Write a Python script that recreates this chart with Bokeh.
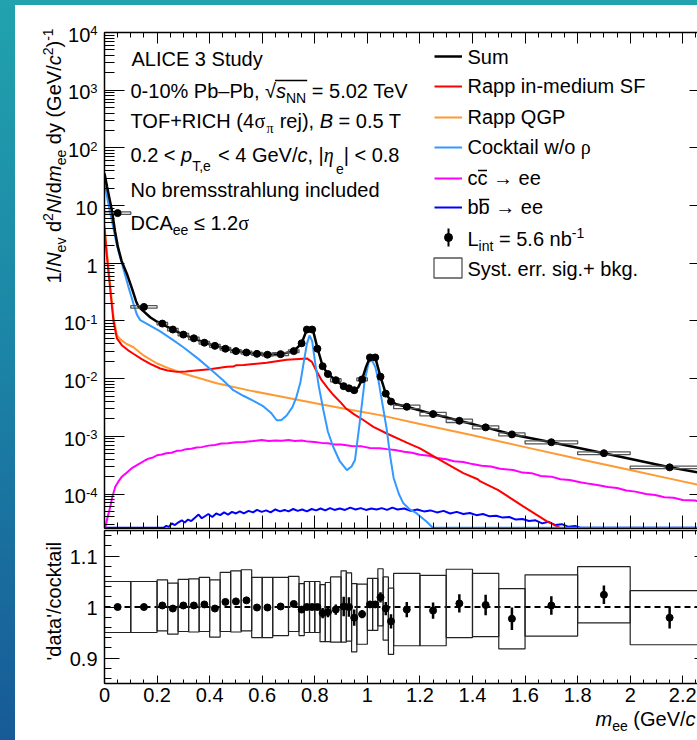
import math
import numpy as np
from bokeh.plotting import figure
from bokeh.layouts import column, row
from bokeh.models import (Range1d, FixedTicker, LinearAxis, LogAxis, Label, Legend,
                          LegendItem, BoxAnnotation, Span)
from bokeh.core.properties import value
from bokeh.embed import file_html
from bokeh.resources import INLINE

# ------------------------------------------------------------------ data
bin_lo = [0.0, 0.1, 0.2, 0.24, 0.28, 0.32, 0.36, 0.40, 0.44, 0.48, 0.52, 0.56, 0.60, 0.64,
          0.70, 0.74, 0.76, 0.78, 0.80, 0.82, 0.84, 0.86, 0.90, 0.92, 0.94, 0.96, 1.00, 1.02,
          1.04, 1.06, 1.08, 1.10, 1.2, 1.3, 1.4, 1.5, 1.6, 1.8, 2.0]
bin_hi = [0.1, 0.2, 0.24, 0.28, 0.32, 0.36, 0.40, 0.44, 0.48, 0.52, 0.56, 0.60, 0.64, 0.70,
          0.74, 0.76, 0.78, 0.80, 0.82, 0.84, 0.86, 0.90, 0.92, 0.94, 0.96, 1.00, 1.02, 1.04,
          1.06, 1.08, 1.10, 1.2, 1.3, 1.4, 1.5, 1.6, 1.8, 2.0, 2.3]
data_yield = [7.4, 0.175, 0.090, 0.071, 0.058, 0.050, 0.042, 0.037, 0.033, 0.030, 0.0284,
              0.0269, 0.026, 0.0266, 0.030, 0.041, 0.071, 0.071, 0.033, 0.0164, 0.012, 0.0094,
              0.0074, 0.0068, 0.0063, 0.0097, 0.0233, 0.0233, 0.0108, 0.0055, 0.0040, 0.00325,
              0.00243, 0.00186, 0.00143, 0.00108, 0.00079, 0.00051, 0.00029]
ratio = [1.000, 1.000, 1.003, 0.997, 1.003, 1.003, 1.005, 0.997, 1.010, 1.011, 1.013, 0.999,
         0.999, 1.001, 1.006, 0.995, 1.000, 1.000, 1.000, 0.988, 0.990, 0.995, 1.001, 1.000,
         0.979, 0.986, 1.005, 1.005, 1.019, 0.997, 0.972, 0.995, 0.993, 1.007, 1.004, 0.977,
         1.003, 1.024, 0.979]
syst_rel = [0.050, 0.050, 0.050, 0.050, 0.051, 0.052, 0.053, 0.056, 0.058, 0.060, 0.060, 0.059,
            0.059, 0.057, 0.054, 0.051, 0.050, 0.050, 0.050, 0.056, 0.058, 0.064, 0.070, 0.067,
            0.067, 0.059, 0.051, 0.051, 0.056, 0.062, 0.065, 0.071, 0.069, 0.067, 0.062, 0.059,
            0.060, 0.055, 0.053]
stat_rel = [0.001, 0.001, 0.001, 0.001, 0.001, 0.001, 0.001, 0.001, 0.001, 0.001, 0.001, 0.001,
            0.001, 0.002, 0.002, 0.005, 0.002, 0.002, 0.004, 0.010, 0.010, 0.010, 0.019, 0.019,
            0.016, 0.008, 0.004, 0.004, 0.010, 0.013, 0.014, 0.015, 0.016, 0.018, 0.020, 0.022,
            0.018, 0.018, 0.021]

sum_curve = [(0.000, 36), (0.010, 21), (0.020, 12.5), (0.028, 8.3), (0.040, 3.6), (0.051, 1.92),
             (0.065, 1.1), (0.085, 0.66), (0.105, 0.36), (0.120, 0.22), (0.130, 0.175),
             (0.150, 0.145), (0.175, 0.115), (0.200, 0.097), (0.220, 0.088), (0.260, 0.071),
             (0.300, 0.058), (0.340, 0.050), (0.380, 0.042), (0.420, 0.037), (0.460, 0.033),
             (0.500, 0.030), (0.540, 0.0284), (0.580, 0.0269), (0.620, 0.026), (0.670, 0.0265),
             (0.720, 0.030), (0.750, 0.041), (0.765, 0.062), (0.775, 0.072), (0.785, 0.072),
             (0.795, 0.064), (0.810, 0.034), (0.830, 0.0164), (0.850, 0.012), (0.880, 0.0094),
             (0.910, 0.0074), (0.930, 0.0068), (0.950, 0.0063), (0.965, 0.0070), (0.980, 0.0097),
             (0.995, 0.016), (1.010, 0.0235), (1.030, 0.0233), (1.050, 0.0108), (1.070, 0.0055),
             (1.090, 0.0041), (1.110, 0.0036), (1.150, 0.00325), (1.250, 0.00243),
             (1.350, 0.00186), (1.450, 0.00143), (1.550, 0.00108), (1.700, 0.00079),
             (1.900, 0.00051), (2.150, 0.00029), (2.300, 0.00022)]
cocktail_curve = [(0.000, 26), (0.010, 14), (0.020, 8.0), (0.030, 5.0), (0.047, 2.05), (0.070, 0.85),
                  (0.091, 0.39), (0.110, 0.20), (0.123, 0.13), (0.136, 0.103), (0.160, 0.090),
                  (0.212, 0.066), (0.260, 0.047), (0.300, 0.035), (0.357, 0.022), (0.400, 0.015),
                  (0.450, 0.0095), (0.490, 0.0063), (0.530, 0.0050), (0.567, 0.0041),
                  (0.605, 0.0033), (0.635, 0.0025), (0.655, 0.0019), (0.672, 0.0019),
                  (0.693, 0.0023), (0.715, 0.0032), (0.730, 0.0048), (0.745, 0.0085),
                  (0.757, 0.018), (0.770, 0.040), (0.780, 0.056), (0.790, 0.045), (0.800, 0.021),
                  (0.815, 0.0075), (0.833, 0.0028), (0.850, 0.0012), (0.870, 0.00066),
                  (0.895, 0.00037), (0.922, 0.00026), (0.940, 0.00030), (0.953, 0.00039),
                  (0.970, 0.0016), (0.990, 0.0093), (1.005, 0.019), (1.017, 0.021), (1.030, 0.016),
                  (1.042, 0.0094), (1.058, 0.0035), (1.074, 0.0013), (1.087, 0.00045),
                  (1.100, 0.00019), (1.120, 0.00010), (1.137, 6.9e-5), (1.160, 5.5e-5),
                  (1.188, 4.6e-5), (1.226, 3.3e-5), (1.249, 2.6e-5), (2.300, 2.6e-5)]
rapp_sf_curve = [(0.000, 4.0), (0.008, 1.5), (0.015, 0.70), (0.025, 0.25), (0.034, 0.10),
                 (0.047, 0.050), (0.066, 0.038), (0.090, 0.031), (0.110, 0.027), (0.140, 0.022),
                 (0.174, 0.018), (0.212, 0.015), (0.240, 0.0138), (0.275, 0.0131), (0.310, 0.0133),
                 (0.338, 0.0137), (0.400, 0.0146), (0.466, 0.0160), (0.490, 0.0162),
                 (0.500, 0.0170), (0.529, 0.0172), (0.617, 0.0188), (0.693, 0.0212),
                 (0.740, 0.0220), (0.770, 0.0224), (0.789, 0.0195), (0.805, 0.0140),
                 (0.826, 0.0094), (0.850, 0.0068), (0.871, 0.0052), (0.900, 0.0038),
                 (0.920, 0.0030), (0.950, 0.0024), (0.986, 0.0019), (1.023, 0.00146),
                 (1.074, 0.00112), (1.150, 0.00078), (1.200, 0.00062), (1.276, 0.00039),
                 (1.365, 0.00023), (1.420, 0.00018), (1.430, 0.000165), (1.498, 0.000117),
                 (1.593, 6.1e-5), (1.682, 3.4e-5), (1.733, 2.6e-5), (1.760, 2.2e-5)]
rapp_qgp_curve = [(0.000, 4.5), (0.008, 1.8), (0.015, 0.86), (0.025, 0.30), (0.034, 0.12),
                  (0.047, 0.057), (0.060, 0.048), (0.080, 0.041), (0.110, 0.035), (0.150, 0.025),
                  (0.200, 0.0183), (0.250, 0.0148), (0.300, 0.0123), (0.427, 0.0083),
                  (0.554, 0.0062), (0.680, 0.0048), (0.807, 0.0037), (0.935, 0.0029),
                  (1.048, 0.00233), (1.200, 0.00164), (1.400, 0.00104), (1.600, 0.00065),
                  (1.800, 0.00041), (2.000, 0.00026), (2.150, 0.000185), (2.300, 0.000132)]
ccbar_curve = [(0.003, 2.6e-5), (0.012, 4.0e-5), (0.022, 6.0e-5), (0.030, 9.0e-5), (0.041, 1.34e-4),
               (0.052, 1.62e-4), (0.066, 2.0e-4), (0.085, 2.35e-4), (0.104, 2.8e-4), (0.130, 3.3e-4),
               (0.155, 3.85e-4), (0.170, 4.15e-4), (0.185, 4.3e-4), (0.200, 4.7e-4),
               (0.218, 4.85e-4), (0.235, 5.1e-4), (0.255, 5.2e-4), (0.275, 5.6e-4),
               (0.294, 5.7e-4), (0.310, 6.0e-4), (0.330, 6.1e-4), (0.350, 6.4e-4),
               (0.370, 6.5e-4), (0.395, 6.9e-4), (0.420, 7.1e-4), (0.445, 7.5e-4),
               (0.470, 7.6e-4), (0.500, 7.9e-4), (0.530, 8.0e-4), (0.565, 8.3e-4),
               (0.598, 8.6e-4), (0.625, 8.3e-4), (0.650, 8.5e-4), (0.675, 8.4e-4),
               (0.700, 8.6e-4), (0.725, 8.3e-4), (0.750, 8.5e-4), (0.775, 8.1e-4),
               (0.800, 8.0e-4), (0.825, 7.7e-4), (0.850, 7.6e-4), (0.875, 7.2e-4),
               (0.900, 7.2e-4), (0.940, 6.8e-4), (0.979, 6.7e-4), (1.010, 6.3e-4),
               (1.048, 6.2e-4), (1.075, 6.0e-4), (1.105, 5.8e-4), (1.140, 5.4e-4),
               (1.170, 5.2e-4), (1.200, 4.8e-4), (1.235, 4.6e-4), (1.265, 4.2e-4),
               (1.300, 4.0e-4), (1.330, 3.7e-4), (1.365, 3.6e-4), (1.400, 3.3e-4),
               (1.435, 3.1e-4), (1.470, 3.0e-4), (1.505, 2.75e-4), (1.555, 2.6e-4),
               (1.590, 2.35e-4), (1.625, 2.3e-4), (1.660, 2.05e-4), (1.700, 2.0e-4),
               (1.735, 1.8e-4), (1.770, 1.75e-4), (1.810, 1.6e-4), (1.845, 1.5e-4),
               (1.880, 1.42e-4), (1.915, 1.32e-4), (1.950, 1.27e-4), (1.985, 1.15e-4),
               (2.020, 1.1e-4), (2.060, 1.0e-4), (2.095, 9.6e-5), (2.130, 8.8e-5),
               (2.165, 8.6e-5), (2.200, 7.9e-5), (2.247, 7.7e-5), (2.300, 7.0e-5)]
bbbar_curve = [(0.000, 2.6e-5), (0.225, 2.6e-5), (0.235, 2.8e-5), (0.245, 2.7e-5), (0.256, 3.1e-5),
               (0.268, 2.9e-5), (0.280, 3.2e-5), (0.294, 3.5e-5), (0.305, 3.2e-5), (0.318, 3.6e-5),
               (0.330, 3.4e-5), (0.345, 3.9e-5), (0.358, 4.4e-5), (0.370, 3.8e-5), (0.385, 4.2e-5),
               (0.395, 4.5e-5), (0.410, 4.0e-5), (0.425, 4.6e-5), (0.440, 4.3e-5), (0.455, 4.8e-5),
               (0.470, 4.4e-5), (0.485, 4.9e-5), (0.500, 4.6e-5), (0.515, 5.0e-5), (0.530, 4.6e-5),
               (0.548, 5.1e-5), (0.565, 4.8e-5), (0.580, 5.3e-5), (0.598, 4.9e-5), (0.615, 5.2e-5),
               (0.632, 4.8e-5), (0.650, 5.4e-5), (0.668, 5.0e-5), (0.685, 5.3e-5), (0.700, 5.0e-5),
               (0.718, 5.5e-5), (0.735, 5.1e-5), (0.752, 5.4e-5), (0.770, 5.0e-5), (0.788, 5.5e-5),
               (0.805, 5.2e-5), (0.822, 5.6e-5), (0.840, 5.2e-5), (0.858, 5.7e-5), (0.875, 5.3e-5),
               (0.895, 5.6e-5), (0.915, 5.3e-5), (0.935, 5.8e-5), (0.955, 5.4e-5), (0.975, 5.7e-5),
               (0.995, 5.3e-5), (1.015, 5.6e-5), (1.035, 5.4e-5), (1.055, 5.7e-5), (1.075, 5.3e-5),
               (1.095, 5.8e-5), (1.115, 5.4e-5), (1.140, 5.6e-5), (1.165, 5.1e-5), (1.190, 5.4e-5),
               (1.215, 5.0e-5), (1.240, 5.2e-5), (1.265, 4.8e-5), (1.290, 5.1e-5), (1.315, 4.6e-5),
               (1.340, 4.9e-5), (1.365, 4.5e-5), (1.390, 4.7e-5), (1.415, 4.3e-5), (1.440, 4.5e-5),
               (1.465, 4.1e-5), (1.490, 4.2e-5), (1.515, 3.9e-5), (1.540, 4.0e-5), (1.565, 3.6e-5),
               (1.590, 3.7e-5), (1.615, 3.4e-5), (1.640, 3.5e-5), (1.665, 3.1e-5), (1.690, 3.3e-5),
               (1.715, 2.9e-5), (1.740, 3.0e-5), (1.765, 2.7e-5), (1.790, 2.8e-5), (1.810, 2.6e-5),
               (2.300, 2.6e-5)]

x_major = [0, 0.2, 0.4, 0.6, 0.8, 1.0, 1.2, 1.4, 1.6, 1.8, 2.0, 2.2]
x_labels = ["0", "0.2", "0.4", "0.6", "0.8", "1", "1.2", "1.4", "1.6", "1.8", "2", "2.2"]
y_exponents = [4, 3, 2, 1, 0, -1, -2, -3, -4]
r_major = [0.9, 1.0, 1.1]
r_labels = ["0.9", "1", "1.1"]

# ------------------------------------------------------------------ geometry (page px)
FL = 104                 # frame left
TOP_FT, TOP_FB = 32, 528 # top frame
R_FT, R_FB = 530, 683    # ratio frame
FRAME_W = 593
PX_PER_GEV = 262.85
PX_PER_DEC = 57.69
X_END = FRAME_W / PX_PER_GEV
Y_MIN = 10 ** (4 - 496 / PX_PER_DEC)
R_LO, R_HI = 0.85, 1.15

SANS = "Liberation Sans"
SERIF = "Liberation Serif"
BASE_CORR = 0.3465       # baseline correction (fraction of font size)
STY = {
    "n": (20, 0, "normal", SANS),
    "i": (20, 0, "italic", SANS),
    "sub": (14, 5, "normal", SANS),
    "sub2": (14, 9, "normal", SANS),
    "sub3": (14, 12, "normal", SANS),
    "sup": (14, -8, "normal", SANS),
    "tsup": (13, -6.5, "normal", SANS),
    "g": (20, 0, "normal", SERIF),
    "gi": (20, 0, "italic", SERIF),
    "gsub": (14, 5, "normal", SERIF),
}
W = {}
for chars, w in [("'", 191), ("ijl", 222), ("|", 260), (" !,./:;I[]\\ft", 278), ("()-r`", 333),
                 ('"', 355), ("*", 389), ("^", 469), ("Jcksvxyz", 500),
                 ("0123456789#$?_Labdeghnopqu–", 556), ("+<=>~−", 584), ("FTZ", 611),
                 ("&ABEKPSVXY", 667), ("CDHNRUw", 722), ("GOQ", 778), ("Mm", 833), ("%", 889),
                 ("W", 944), ("@", 1015), ("→", 1000), ("≤√πρ", 549), ("ση", 603), ("{}", 334)]:
    for ch in chars:
        W[ch] = w


def tw(s, size):
    return sum(W.get(c, 556) for c in s) * size / 1000.0


def rich(fig, ox, oy, x, y, parts, rot=False, align="left"):
    """Styled text pieces; (x, y) page coords of baseline start; (ox, oy) = page coords of the
    figure frame's left / bottom edge."""
    total = sum(tw(t, STY[k][0]) for t, k in parts)
    if align == "right":
        x = x - total
    elif align == "center":
        x = x - total / 2
    pos = 0.0
    ext = []
    for text, key in parts:
        size, dy, fstyle, font = STY[key]
        stripped = text.lstrip(" ")
        lead = tw(text[:len(text) - len(stripped)], size)
        p = pos + lead
        corr = BASE_CORR * size
        if rot:
            px, py = x + dy - corr, y - p
        else:
            px, py = x + p, y + dy - corr
        fig.add_layout(Label(x=px - ox, y=oy - py, x_units="screen", y_units="screen",
                             text=stripped, text_font=font, text_font_size=f"{size}px",
                             text_font_style=fstyle, text_color="black", text_align="left",
                             text_baseline="alphabetic", angle=(math.pi / 2 if rot else 0)))
        w = tw(text, size)
        ext.append((x + pos, x + pos + w))
        pos += w
    return ext


def box(fig, ox, oy, x0, x1, y0, y1, color="black"):
    fig.add_layout(BoxAnnotation(left=x0 - ox, right=x1 - ox, top=oy - y0, bottom=oy - y1,
                                 left_units="screen", right_units="screen", top_units="screen",
                                 bottom_units="screen", fill_color=color, fill_alpha=1.0,
                                 line_color=None))


def style_axis(ax, major_in, minor_in, line=True):
    ax.major_tick_in = major_in
    ax.major_tick_out = 0
    ax.minor_tick_in = minor_in
    ax.minor_tick_out = 0
    ax.major_label_text_color = None
    ax.major_label_text_font_size = "0px"
    ax.major_label_standoff = 0
    ax.axis_line_color = "black" if line else None
    ax.axis_line_width = 1.5
    ax.major_tick_line_color = "black"
    ax.major_tick_line_width = 1
    ax.minor_tick_line_color = "black" if minor_in > 0 else None
    ax.minor_tick_line_width = 1


def blank_panel(w, h):
    f = figure(frame_width=w, frame_height=h, x_range=Range1d(0, 1), y_range=Range1d(0, 1),
               x_axis_location=None, y_axis_location=None, output_backend="svg",
               toolbar_location=None, min_border_left=0, min_border_right=0, min_border_top=0,
               min_border_bottom=0, background_fill_color="white", border_fill_color="white",
               outline_line_color=None)
    f.xgrid.visible = False
    f.ygrid.visible = False
    return f


x_minor = [round(0.05 * i, 2) for i in range(46)]
y_major = [10.0 ** k for k in range(-4, 5)]
y_minor = [m * 10.0 ** k for k in range(-5, 4) for m in range(2, 10)]
r_minor = [round(0.86 + 0.02 * i, 2) for i in range(15)]

lo = np.array(bin_lo)
hi = np.array(bin_hi)
xc = (lo + hi) / 2
yv = np.array(data_yield)
rv = np.array(ratio)
sy = np.array(syst_rel)
st = np.array(stat_rel)

# ------------------------------------------------------------------ top panel
p1 = figure(frame_width=FRAME_W, frame_height=496, x_range=Range1d(0, X_END),
            y_range=Range1d(Y_MIN, 1e4), y_axis_type="log", output_backend="svg",
            toolbar_location=None, min_border_left=2, min_border_right=0, min_border_top=27,
            min_border_bottom=1, background_fill_color="white", border_fill_color="white",
            outline_line_color=None)
p1.xgrid.visible = False
p1.ygrid.visible = False
p1.xaxis[0].ticker = FixedTicker(ticks=x_major, minor_ticks=x_minor)
style_axis(p1.xaxis[0], 13, 6)
p1.yaxis[0].ticker = FixedTicker(ticks=y_major, minor_ticks=y_minor)
style_axis(p1.yaxis[0], 20, 10)
top_ax = LinearAxis(ticker=FixedTicker(ticks=x_major, minor_ticks=x_minor))
style_axis(top_ax, 11, 5)
p1.add_layout(top_ax, "above")
right_ax = LogAxis(ticker=FixedTicker(ticks=y_major, minor_ticks=[]))
style_axis(right_ax, 8, 0, line=False)
p1.add_layout(right_ax, "right")


def curve(pairs):
    m, v = zip(*pairs)
    return list(m), list(v)


m, v = curve(bbbar_curve)
r_bb = p1.line(m, v, line_color="#0000ff", line_width=2)
m, v = curve(ccbar_curve)
r_cc = p1.line(m, v, line_color="#ff00ff", line_width=2)
m, v = curve(rapp_qgp_curve)
r_qgp = p1.line(m, v, line_color="#ff9933", line_width=2)
m, v = curve(rapp_sf_curve)
r_sf = p1.line(m, v, line_color="#ff0000", line_width=2)
m, v = curve(cocktail_curve)
r_cock = p1.line(m, v, line_color="#3399ff", line_width=2)
m, v = curve(sum_curve)
r_sum = p1.line(m, v, line_color="black", line_width=2.5)

r_box = p1.quad(left=lo, right=hi, bottom=yv * (1 - sy), top=yv * (1 + sy), fill_color=None,
                line_color="#555555", line_width=1.3)
p1.segment(x0=xc, y0=yv * (1 - st), x1=xc, y1=yv * (1 + st), line_color="black", line_width=2)
r_pts = p1.scatter(xc, yv, size=7, marker="circle", fill_color="black", line_color="black")

# legend samples: one single-item legend per row (glyph box 28x20, x 434..462)
row_centers = [56, 86, 117, 147, 178, 207, 237]
for r, c in zip([r_sum, r_sf, r_qgp, r_cock, r_cc, r_bb, r_pts], row_centers):
    p1.add_layout(Legend(items=[LegendItem(label=value(" "), renderers=[r])],
                         location=(434 - FL, TOP_FB - (c + 10)), padding=0, margin=0,
                         glyph_width=28, glyph_height=20, label_width=1, label_height=20,
                         label_standoff=0, label_text_font_size="1px", border_line_color=None,
                         background_fill_alpha=0))
p1.add_layout(Legend(items=[LegendItem(label=value(" "), renderers=[r_box])],
                     location=(430 - FL, TOP_FB - 280), padding=0, margin=0, glyph_width=35,
                     glyph_height=25, label_width=1, label_height=25, label_standoff=0,
                     label_text_font_size="1px", border_line_color=None,
                     background_fill_alpha=0))
box(p1, FL, TOP_FB, 447, 449, 228, 246)   # vertical stat bar of the legend marker

# text block
rich(p1, FL, TOP_FB, 131, 65, [("ALICE 3 Study", "n")])
e = rich(p1, FL, TOP_FB, 130, 97, [("0-10% Pb–Pb, ", "n"), ("√", "n"), ("s", "i"),
                                    ("NN", "sub"), (" = 5.02 TeV", "n")])
box(p1, FL, TOP_FB, e[1][1] - 1, e[3][1] + 1, 79.3, 80.7)
rich(p1, FL, TOP_FB, 130, 127.5, [("TOF+RICH (4", "n"), ("σ", "g"), ("π", "gsub"),
                                  (" rej), ", "n"), ("B", "i"), (" = 0.5 T", "n")])
rich(p1, FL, TOP_FB, 130, 161, [("0.2 < ", "n"), ("p", "i"), ("T,e", "sub2"),
                                (" < 4 GeV/", "n"), ("c", "i"), (", |", "n"), ("η", "gi"),
                                ("e", "sub3"), ("| < 0.8", "n")])
rich(p1, FL, TOP_FB, 130, 196, [("No bremsstrahlung included", "n")])
rich(p1, FL, TOP_FB, 130, 229, [("DCA", "n"), ("ee", "sub"), (" ≤ 1.2", "n"), ("σ", "g")])

# legend texts
LX = 467
rich(p1, FL, TOP_FB, LX, 63.3, [("Sum", "n")])
rich(p1, FL, TOP_FB, LX, 92.7, [("Rapp in-medium SF", "n")])
rich(p1, FL, TOP_FB, LX, 123.3, [("Rapp QGP", "n")])
rich(p1, FL, TOP_FB, LX, 153.3, [("Cocktail w/o ", "n"), ("ρ", "g")])
e = rich(p1, FL, TOP_FB, LX, 184.3, [("c", "n"), ("c", "n"), (" → ee", "n")])
box(p1, FL, TOP_FB, e[1][0] + 0.5, e[1][1] - 0.5, 169.3, 170.7)
e = rich(p1, FL, TOP_FB, LX, 213.3, [("b", "n"), ("b", "n"), (" → ee", "n")])
box(p1, FL, TOP_FB, e[1][0] + 0.5, e[1][1] - 0.5, 198.3, 199.7)
rich(p1, FL, TOP_FB, LX, 245, [("L", "n"), ("int", "sub"), (" = 5.6 nb", "n"), ("-1", "sup")])
rich(p1, FL, TOP_FB, LX, 275, [("Syst. err. sig.+ bkg.", "n")])

# ------------------------------------------------------------------ ratio panel
p2 = figure(frame_width=FRAME_W, frame_height=153, x_range=p1.x_range,
            y_range=Range1d(R_LO, R_HI), output_backend="svg", toolbar_location=None,
            min_border_left=2, min_border_right=0, min_border_top=1, min_border_bottom=2,
            background_fill_color="white", border_fill_color="white", outline_line_color=None)
p2.xgrid.visible = False
p2.ygrid.visible = False
p2.xaxis[0].ticker = FixedTicker(ticks=x_major, minor_ticks=x_minor)
style_axis(p2.xaxis[0], 8, 4)
p2.yaxis[0].ticker = FixedTicker(ticks=r_major, minor_ticks=r_minor)
style_axis(p2.yaxis[0], 15, 7)
top_ax2 = LinearAxis(ticker=FixedTicker(ticks=x_major, minor_ticks=x_minor))
style_axis(top_ax2, 8, 4)
p2.add_layout(top_ax2, "above")
right_ax2 = LinearAxis(ticker=FixedTicker(ticks=r_major, minor_ticks=[]))
style_axis(right_ax2, 3, 0, line=False)
p2.add_layout(right_ax2, "right")

p2.add_layout(Span(location=1.0, dimension="width", line_color="black", line_width=2.2,
                   line_dash="6 4", level="underlay"))
p2.quad(left=lo, right=hi, bottom=rv - sy, top=rv + sy, fill_color=None,
        line_color="#222222", line_width=1.2)
p2.segment(x0=xc, y0=rv - st, x1=xc, y1=rv + st, line_color="black", line_width=2.5)
p2.scatter(xc, rv, size=7, marker="circle", fill_color="black", line_color="black")

# ------------------------------------------------------------------ side panels for axis texts
LP_X0, LP_Y0, LP_W, LP_H = 15, 5, 87, 680
pl = blank_panel(LP_W, LP_H)
ol, bl = LP_X0, LP_Y0 + LP_H          # page coords of panel frame left / bottom
for k in y_exponents:
    ty = TOP_FT + PX_PER_DEC * (4 - k)
    if k == 0:
        parts = [("1", "n")]
    elif k == 1:
        parts = [("10", "n")]
    else:
        parts = [("10", "n"), (("-" if k < 0 else "") + str(abs(k)), "tsup")]
    rich(pl, ol, bl, 97, ty + 9.2, parts, align="right")
for t, s in zip(r_major, r_labels):
    ty = R_FT + (R_HI - t) * (R_FB - R_FT) / (R_HI - R_LO)
    rich(pl, ol, bl, 97, ty + 8.2, [(s, "n")], align="right")
rich(pl, ol, bl, 60, 283, [("1/", "n"), ("N", "i"), ("ev", "sub"), (" d", "n"), ("2", "sup"),
                           ("N", "i"), ("/d", "n"), ("m", "i"), ("ee", "sub"),
                           (" dy (GeV/", "n"), ("c", "i"), ("2", "sup"), (")", "n"),
                           ("-1", "sup")], rot=True)
rich(pl, ol, bl, 60, 660, [("'data'/cocktail", "n")], rot=True)

BP_X0, BP_Y0, BP_W, BP_H = 15, 685, 682, 55
pb = blank_panel(BP_W, BP_H)
ob, bb = BP_X0, BP_Y0 + BP_H
for t, s in zip(x_major, x_labels):
    rich(pb, ob, bb, FL + PX_PER_GEV * t, 701.7, [(s, "n")], align="center")
rich(pb, ob, bb, 595, 725.7, [("m", "i"), ("ee", "sub"), (" (GeV/", "n"), ("c", "i")])

layout = column(row(pl, column(p1, p2, spacing=0), spacing=0), pb, spacing=0)

css = ("<style>html,body{margin:0;padding:0;overflow:hidden;}"
       "html{min-height:100%;background:"
       "linear-gradient(90deg,rgba(255,255,255,0) 15px,#ffffff 15px) 0 5px/100% 100% no-repeat,"
       "linear-gradient(180deg,#21a2ad 0%,#1c86a7 45%,#175a97 100%);}"
       "body{padding:5px 0 0 15px;background:transparent;}</style>")
html = file_html(layout, INLINE, title="ALICE 3 dielectron projection")
html = html.replace("</head>", css + "</head>", 1)
open("out.html", "w").write(html)
